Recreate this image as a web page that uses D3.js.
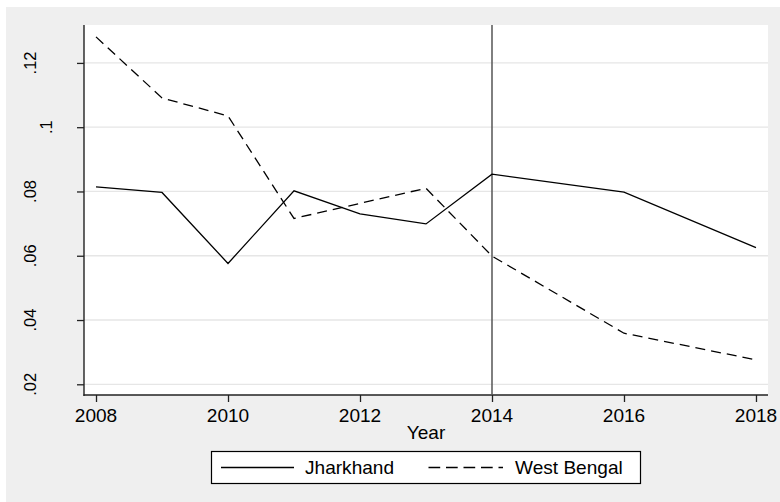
<!DOCTYPE html>
<html><head><meta charset="utf-8">
<script src="https://cdn.jsdelivr.net/npm/d3@7"></script>
<style>body{margin:0;background:#fff}svg{display:block}text{font-family:Arial,"Liberation Sans",sans-serif;fill:#000}</style>
</head><body>
<svg id="c" width="780" height="502"></svg>
<script>
const jhYears = [2008,2009,2010,2011,2012,2013,2014,2016,2018];
const jhValues = [0.0814,0.0797,0.0576,0.0802,0.0730,0.0699,0.0854,0.0798,0.0625];
const wbYears = [2008,2009,2010,2011,2012,2013,2014,2016,2018];
const wbValues = [0.1281,0.1091,0.1035,0.0716,0.0763,0.0810,0.0599,0.0359,0.0276];
const xTicks = [2008,2010,2012,2014,2016,2018];
const yTicks = [0.02,0.04,0.06,0.08,0.10,0.12];
const yTickLabels = [".02",".04",".06",".08",".1",".12"];
const seriesNames = ["Jharkhand","West Bengal"];
const markerYear = 2014;
const xTitle = "Year";

const SX = 1.09, FS = "17.5px";
const svg = d3.select("#c");
svg.append("rect").attr("x",6).attr("y",7).attr("width",774).attr("height",495).attr("fill","#efefef");

const L=84,R=768,T=25,B=395;
svg.append("rect").attr("x",L).attr("y",T).attr("width",R-L).attr("height",B-T).attr("fill","#fff");

const x = d3.scaleLinear().domain([2007.818,2018.182]).range([L,R]);
const y = d3.scaleLinear().domain([0.01667,0.1318]).range([B,T]);

function wideText(sel, tx, ty, anchor, str){
  return sel.append("text").attr("transform",`translate(${tx},${ty}) scale(${SX},1)`)
    .attr("text-anchor",anchor).style("font-size",FS).text(str);
}

// gridlines
svg.append("g").selectAll("line").data(yTicks).join("line")
  .attr("x1",L).attr("x2",R).attr("y1",d=>y(d)).attr("y2",d=>y(d))
  .attr("stroke","#e6e6e6").attr("stroke-width",1.3);

// axes
const yAxis = d3.axisLeft(y).tickValues(yTicks).tickSize(7).tickFormat((d,i)=>yTickLabels[i]);
const gy = svg.append("g").attr("transform",`translate(${L},0)`).call(yAxis);
gy.select(".domain").remove();
gy.selectAll(".tick line").attr("stroke","#222").attr("stroke-width",1.3);
gy.selectAll(".tick text").remove();

const xAxis = d3.axisBottom(x).tickValues(xTicks).tickSize(7).tickFormat(d3.format("d"));
const gx = svg.append("g").attr("transform",`translate(0,${B})`).call(xAxis);
gx.select(".domain").remove();
gx.selectAll(".tick line").attr("stroke","#222").attr("stroke-width",1.3);
gx.selectAll(".tick text").remove();

svg.append("line").attr("x1",L).attr("x2",L).attr("y1",T).attr("y2",B+1).attr("stroke","#222").attr("stroke-width",1.4);
svg.append("line").attr("x1",L-0.5).attr("x2",R).attr("y1",B).attr("y2",B).attr("stroke","#222").attr("stroke-width",1.4);

// x labels
const xl = svg.append("g");
xTicks.forEach(d=>wideText(xl, x(d), 422.3, "middle", d));

// y labels (rotated)
const yl = svg.append("g").selectAll("text").data(yTicks).join("text")
  .attr("text-anchor","middle").style("font-size","16.5px").text((d,i)=>yTickLabels[i]);
const widths = []; yl.each(function(){widths.push(this.getComputedTextLength());});
const maxW = d3.max(widths);
yl.attr("transform",(d,i)=>`translate(${35.5+(maxW-widths[i])*1.8},${y(d)}) rotate(-90)`);

// x title
wideText(svg, (L+R)/2, 439, "middle", xTitle);

// vertical marker
svg.append("line").attr("x1",x(markerYear)).attr("x2",x(markerYear)).attr("y1",T).attr("y2",B)
  .attr("stroke","#555").attr("stroke-width",1.5);

const line = d3.line().x(d=>x(d[0])).y(d=>y(d[1]));
svg.append("path").datum(jhYears.map((yr,i)=>[yr,jhValues[i]])).attr("d",line)
  .attr("fill","none").attr("stroke","#000").attr("stroke-width",1.3);
svg.append("path").datum(wbYears.map((yr,i)=>[yr,wbValues[i]])).attr("d",line)
  .attr("fill","none").attr("stroke","#000").attr("stroke-width",1.3).attr("stroke-dasharray","10,6");

// legend
const lg = svg.append("g");
lg.append("rect").attr("x",211.5).attr("y",451.5).attr("width",429).attr("height",32)
  .attr("fill","#fff").attr("stroke","#000").attr("stroke-width",1.2);
lg.append("line").attr("x1",221).attr("x2",294).attr("y1",467.5).attr("y2",467.5).attr("stroke","#000").attr("stroke-width",1.3);
wideText(lg, 305, 474, "start", seriesNames[0]);
lg.append("line").attr("x1",428.5).attr("x2",503).attr("y1",467.5).attr("y2",467.5).attr("stroke","#000").attr("stroke-width",1.3).attr("stroke-dasharray","11.7,5.8");
wideText(lg, 515, 474, "start", seriesNames[1]);
</script>
</body></html>
